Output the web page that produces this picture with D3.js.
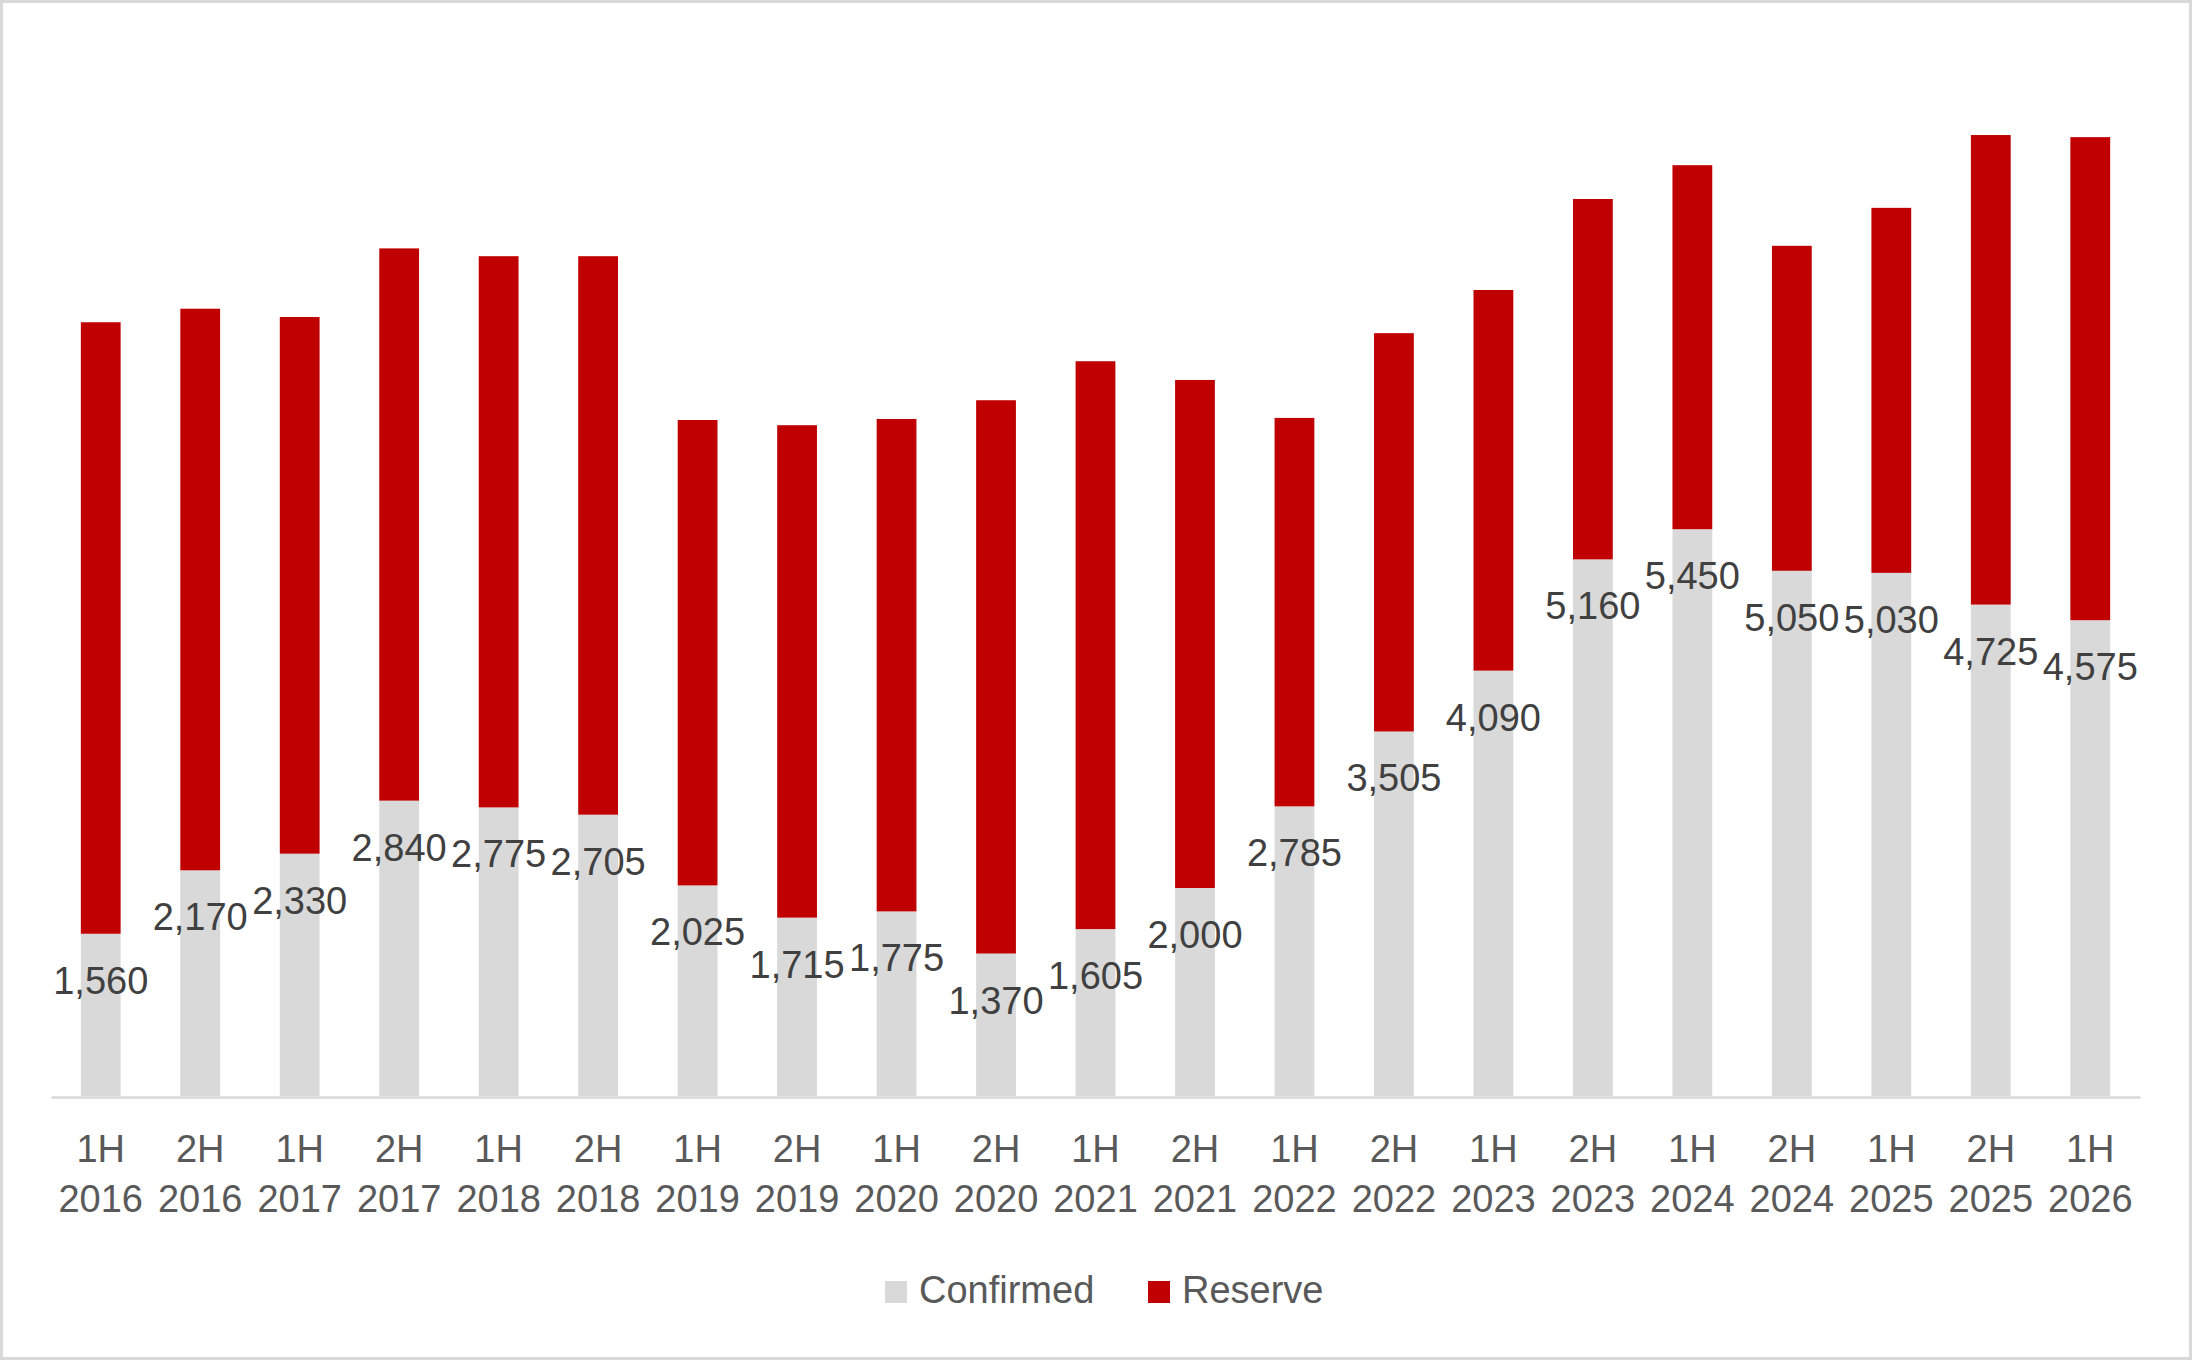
<!DOCTYPE html>
<html>
<head>
<meta charset="utf-8">
<script src="https://cdn.jsdelivr.net/npm/d3@7"></script>
<style>
  body { margin: 0; background: #fff; }
  svg { display: block; }
</style>
</head>
<body>
<svg id="chart"></svg>
<script>
const width = 2192;
const height = 1360;

const periods = ["1H 2016", "2H 2016", "1H 2017", "2H 2017", "1H 2018", "2H 2018", "1H 2019",
  "2H 2019", "1H 2020", "2H 2020", "1H 2021", "2H 2021", "1H 2022", "2H 2022", "1H 2023",
  "2H 2023", "1H 2024", "2H 2024", "1H 2025", "2H 2025", "1H 2026"];
const confirmed = [1560, 2170, 2330, 2840, 2775, 2705, 2025, 1715, 1775, 1370, 1605, 2000,
  2785, 3505, 4090, 5160, 5450, 5050, 5030, 4725, 4575];
const reserve = [5880, 5400, 5160, 5310, 5300, 5370, 4475, 4735, 4735, 5320, 5460, 4885,
  3735, 3830, 3660, 3465, 3500, 3125, 3510, 4515, 4645];
const seriesNames = ["Confirmed", "Reserve"];

const font = "'Liberation Sans', Arial, sans-serif";
const colors = { Confirmed: "#d9d9d9", Reserve: "#c00000" };

const rows = periods.map((p, i) => ({ period: p, Confirmed: confirmed[i], Reserve: reserve[i] }));
const stacked = d3.stack().keys(seriesNames)(rows);

const svg = d3.select("#chart")
  .attr("width", width)
  .attr("height", height)
  .attr("font-family", font);

// outer frame
svg.append("rect")
  .attr("x", 1.5).attr("y", 1.5)
  .attr("width", width - 3).attr("height", height - 3)
  .attr("fill", "#fff")
  .attr("stroke", "#d9d9d9")
  .attr("stroke-width", 3);

const x = d3.scaleBand()
  .domain(periods)
  .range([51, 2140])
  .paddingInner(0.6)
  .paddingOuter(0.3);

const y = d3.scaleLinear()
  .domain([0, 10000])
  .range([1096, 56]);

svg.append("g")
  .selectAll("g")
  .data(stacked)
  .join("g")
    .attr("fill", d => colors[d.key])
  .selectAll("rect")
  .data(d => d)
  .join("rect")
    .attr("x", d => x(d.data.period))
    .attr("y", d => y(d[1]))
    .attr("width", x.bandwidth())
    .attr("height", d => y(d[0]) - y(d[1]));

// x axis
const xAxis = svg.append("g")
  .attr("transform", "translate(0,1097)")
  .call(d3.axisBottom(x).tickSize(0).tickSizeOuter(0));

xAxis.select(".domain")
  .attr("stroke", "#d9d9d9")
  .attr("stroke-width", 2.5);

xAxis.selectAll(".tick text")
  .attr("y", 0)
  .attr("dy", null)
  .attr("fill", "#595959")
  .attr("font-size", 38)
  .attr("font-family", font)
  .text(null)
  .selectAll("tspan")
  .data(d => d.split(" "))
  .join("tspan")
    .attr("x", 0)
    .attr("y", (d, i) => 65 + i * 50)
    .text(d => d);

// data labels for confirmed
const fmt = d3.format(",");
svg.append("g")
  .selectAll("text")
  .data(rows)
  .join("text")
    .attr("x", d => x(d.period) + x.bandwidth() / 2)
    .attr("y", d => y(d.Confirmed) + 60)
    .attr("text-anchor", "middle")
    .attr("font-size", 38)
    .attr("fill", "#404040")
    .text(d => fmt(d.Confirmed));

// legend
const legendX = [885, 1148];
const legend = svg.append("g")
  .selectAll("g")
  .data(seriesNames)
  .join("g")
    .attr("transform", (d, i) => `translate(${legendX[i]},1281)`);

legend.append("rect")
  .attr("width", 22)
  .attr("height", 22)
  .attr("fill", d => colors[d]);

legend.append("text")
  .attr("x", 34)
  .attr("y", 22)
  .attr("font-size", 38)
  .attr("fill", "#595959")
  .text(d => d);
</script>
</body>
</html>
